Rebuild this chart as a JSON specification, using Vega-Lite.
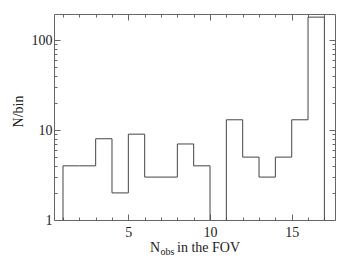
{
  "$schema": "https://vega.github.io/schema/vega-lite/v6.json",
  "width": 281,
  "height": 206,
  "autosize": {"type": "none"},
  "padding": {"left": 54, "top": 14, "right": 19, "bottom": 44},
  "config": {
    "font": "Liberation Serif",
    "view": {"stroke": "#666", "strokeWidth": 1},
    "axis": {
      "domain": false,
      "grid": false,
      "tickColor": "#666",
      "tickWidth": 1,
      "labelFont": "Liberation Serif",
      "labelFontSize": 14,
      "labelColor": "#222",
      "titleFont": "Liberation Serif",
      "titleFontSize": 14,
      "titleFontWeight": "normal",
      "titleColor": "#222"
    }
  },
  "data": {
    "values": [
      {"i": 0, "x": 1, "n": 0.5},
      {"i": 1, "x": 1, "n": 4},
      {"i": 2, "x": 2, "n": 4},
      {"i": 3, "x": 3, "n": 8},
      {"i": 4, "x": 4, "n": 2},
      {"i": 5, "x": 5, "n": 9},
      {"i": 6, "x": 6, "n": 3},
      {"i": 7, "x": 7, "n": 3},
      {"i": 8, "x": 8, "n": 7},
      {"i": 9, "x": 9, "n": 4},
      {"i": 10, "x": 10, "n": 0.5},
      {"i": 11, "x": 11, "n": 13},
      {"i": 12, "x": 12, "n": 5},
      {"i": 13, "x": 13, "n": 3},
      {"i": 14, "x": 14, "n": 5},
      {"i": 15, "x": 15, "n": 13},
      {"i": 16, "x": 16, "n": 180},
      {"i": 17, "x": 17, "n": 0.5}
    ]
  },
  "layer": [
    {
      "mark": {"type": "line", "interpolate": "step-after", "clip": true, "color": "#444", "strokeWidth": 1},
      "encoding": {
        "x": {
          "field": "x", "type": "quantitative",
          "scale": {"domain": [0.45, 17.65], "nice": false, "zero": false},
          "axis": {
            "orient": "bottom",
            "values": [1, 2, 3, 4, 5, 6, 7, 8, 9, 10, 11, 12, 13, 14, 15, 16, 17],
            "labelExpr": "datum.value % 5 === 0 ? datum.label : ''",
            "tickSize": {"condition": {"test": "datum.value % 5 === 0", "value": -6}, "value": -3},
            "labelPadding": 11,
            "labelBaseline": "top",
            "title": "in the FOV",
            "titleAlign": "left",
            "titleBaseline": "alphabetic",
            "titleX": 122.5,
            "titleY": 31.5
          }
        },
        "y": {
          "field": "n", "type": "quantitative",
          "scale": {"type": "log", "domain": [1, 195], "nice": false},
          "axis": {
            "orient": "left",
            "values": [1, 2, 3, 4, 5, 6, 7, 8, 9, 10, 20, 30, 40, 50, 60, 70, 80, 90, 100],
            "labelExpr": "(datum.value == 1 || datum.value == 10 || datum.value == 100) ? format(datum.value, 'd') : ''",
            "tickSize": {"condition": {"test": "datum.value == 1 || datum.value == 10 || datum.value == 100", "value": -6}, "value": -3},
            "labelPadding": 8,
            "title": "N/bin",
            "titleAngle": -90,
            "titleBaseline": "middle",
            "titleAlign": "center",
            "titleX": -36,
            "titleY": 97
          }
        },
        "order": {"field": "i", "type": "quantitative"}
      }
    },
    {
      "mark": {"type": "line", "interpolate": "step-after", "clip": true, "opacity": 0},
      "encoding": {
        "x": {
          "field": "x", "type": "quantitative",
          "scale": {"domain": [0.45, 17.65], "nice": false, "zero": false},
          "axis": {
            "orient": "top",
            "values": [1, 2, 3, 4, 5, 6, 7, 8, 9, 10, 11, 12, 13, 14, 15, 16, 17],
            "labels": false,
            "tickSize": {"condition": {"test": "datum.value % 5 === 0", "value": -6}, "value": -3},
            "title": "obs",
            "titleFontSize": 10,
            "titleBaseline": "alphabetic",
            "titleAlign": "left",
            "titleX": 106,
            "titleY": 240.5
          }
        },
        "y": {
          "field": "n", "type": "quantitative",
          "scale": {"type": "log", "domain": [1, 195], "nice": false},
          "axis": {
            "orient": "right",
            "values": [1, 2, 3, 4, 5, 6, 7, 8, 9, 10, 20, 30, 40, 50, 60, 70, 80, 90, 100],
            "labels": false,
            "tickSize": {"condition": {"test": "datum.value == 1 || datum.value == 10 || datum.value == 100", "value": -6}, "value": -3},
            "title": "N",
            "titleAngle": 0,
            "titleAlign": "left",
            "titleBaseline": "alphabetic",
            "titleX": -185.5,
            "titleY": 237.5
          }
        },
        "order": {"field": "i", "type": "quantitative"}
      }
    }
  ],
  "resolve": {"axis": {"x": "independent", "y": "independent"}}
}
